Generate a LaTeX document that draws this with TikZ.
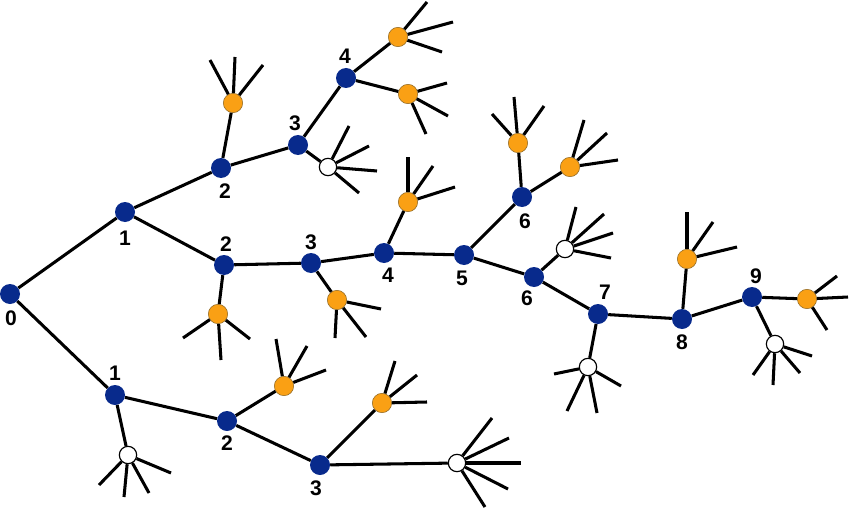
\documentclass[tikz,border=0pt]{standalone}
\usepackage{fontspec}
\setmainfont{Liberation Sans}
\definecolor{nblue}{RGB}{8,42,140}
\definecolor{norange}{RGB}{250,160,20}
\definecolor{nbrown}{RGB}{150,110,40}
\begin{document}
\begin{tikzpicture}[x=0.03cm,y=-0.03cm,
  link/.style={line width=2.6pt},
  spike/.style={line width=2.6pt},
  bnode/.style={circle,fill=nblue,inner sep=0pt,minimum size=0.6cm},
  onode/.style={circle,fill=norange,draw=nbrown,line width=0.5pt,inner sep=0pt,minimum size=0.58cm},
  wnode/.style={circle,fill=white,draw=black,line width=1pt,inner sep=0pt,minimum size=0.52cm},
  lab/.style={font=\bfseries\fontsize{18}{18}\selectfont,inner sep=0pt}]
\useasboundingbox (0,0) rectangle (850,509);
% blue nodes
\node[bnode] (n0) at (10,294) {};
\node[bnode] (a1) at (125,212) {};
\node[bnode] (b2) at (221,168) {};
\node[bnode] (c3) at (298,145) {};
\node[bnode] (d4) at (346,78) {};
\node[bnode] (m2) at (224,265) {};
\node[bnode] (m3) at (311,263) {};
\node[bnode] (m4) at (384,253) {};
\node[bnode] (m5) at (464,255) {};
\node[bnode] (u6) at (522,197) {};
\node[bnode] (l6) at (534,277) {};
\node[bnode] (n7) at (598,314) {};
\node[bnode] (n8) at (682,319) {};
\node[bnode] (n9) at (752,297) {};
\node[bnode] (L1) at (115,395) {};
\node[bnode] (L2) at (227,421) {};
\node[bnode] (L3) at (320,465) {};
% orange nodes
\node[onode] (oB2) at (233,103) {};
\node[onode] (oD4a) at (398,37) {};
\node[onode] (oD4b) at (408,94) {};
\node[onode] (oM2) at (218,314) {};
\node[onode] (oM3) at (337,300) {};
\node[onode] (oM4) at (408,202) {};
\node[onode] (oU6a) at (518,143) {};
\node[onode] (oU6b) at (570,167) {};
\node[onode] (o8) at (687,259) {};
\node[onode] (o9) at (807,299) {};
\node[onode] (oL2) at (284,386) {};
\node[onode] (oL3) at (382,403) {};
% white nodes
\node[wnode] (wC3) at (328,167) {};
\node[wnode] (wL6) at (565,249) {};
\node[wnode] (w7) at (588,367) {};
\node[wnode] (w9) at (775,344) {};
\node[wnode] (wL1) at (128,455) {};
\node[wnode] (wL3) at (457,463) {};
% links
\foreach \a/\b in {n0/a1,n0/L1,a1/b2,a1/m2,b2/oB2,b2/c3,c3/d4,c3/wC3,d4/oD4a,d4/oD4b,
  m2/m3,m2/oM2,m3/m4,m3/oM3,m4/oM4,m4/m5,m5/u6,m5/l6,u6/oU6a,u6/oU6b,l6/wL6,l6/n7,
  n7/w7,n7/n8,n8/o8,n8/n9,n9/o9,n9/w9,L1/wL1,L1/L2,L2/oL2,L2/L3,L3/oL3,L3/wL3}
  \draw[link] (\a) -- (\b);
% spikes
\foreach \n/\i/\x/\y in {
  oB2/1/210/60, oB2/2/235/57, oB2/3/263/65,
  oD4a/1/427/2, oD4a/2/453/22, oD4a/3/442/52,
  oD4b/1/447/83, oD4b/2/448/116, oD4b/3/426/134,
  wC3/1/349/126, wC3/2/369/146, wC3/3/377/171, wC3/4/359/193,
  oM2/1/183/338, oM2/2/221/360, oM2/3/250/339,
  oM3/1/381/309, oM3/2/366/337, oM3/3/335/338,
  oM4/1/408/157, oM4/2/433/166, oM4/3/455/187,
  oU6a/1/492/114, oU6a/2/514/97, oU6a/3/544/106,
  oU6b/1/584/120, oU6b/2/607/133, oU6b/3/618/160,
  wL6/1/576/207, wL6/2/604/214, wL6/3/613/233, wL6/4/611/258,
  w7/1/554/374, w7/2/567/411, w7/3/597/413, w7/4/621/386,
  o8/1/687/212, o8/2/713/222, o8/3/737/247,
  o9/1/837/276, o9/2/848/297, o9/3/827/330,
  w9/1/753/375, w9/2/773/385, w9/3/800/373, w9/4/812/356,
  wL1/1/99/485, wL1/2/124/497, wL1/3/149/493, wL1/4/171/473,
  oL2/1/276/339, oL2/2/307/346, oL2/3/326/370,
  oL3/1/395/361, oL3/2/417/375, oL3/3/427/402,
  wL3/1/492/418, wL3/2/509/438, wL3/3/521/463, wL3/4/508/489, wL3/5/485/507}
{
  \coordinate (\n-s\i) at (\x,\y);
  \draw[spike] (\n) -- (\n-s\i);
}
% labels
\node[lab] (t0) at (11,318) {0};
\node[lab] (ta1) at (125,238) {1};
\node[lab] (tb2) at (225,191) {2};
\node[lab] (tc3) at (295,123) {3};
\node[lab] (td4) at (345,56) {4};
\node[lab] (tm2) at (226,244) {2};
\node[lab] (tm3) at (311,242) {3};
\node[lab] (tm4) at (388,275) {4};
\node[lab] (tm5) at (462,278) {5};
\node[lab] (tu6) at (525,221) {6};
\node[lab] (tl6) at (527,298) {6};
\node[lab] (t7) at (605,292) {7};
\node[lab] (t8) at (682,342) {8};
\node[lab] (t9) at (756,276) {9};
\node[lab] (tL1) at (115,373) {1};
\node[lab] (tL2) at (227,443) {2};
\node[lab] (tL3) at (316,488) {3};
\end{tikzpicture}
\end{document}
